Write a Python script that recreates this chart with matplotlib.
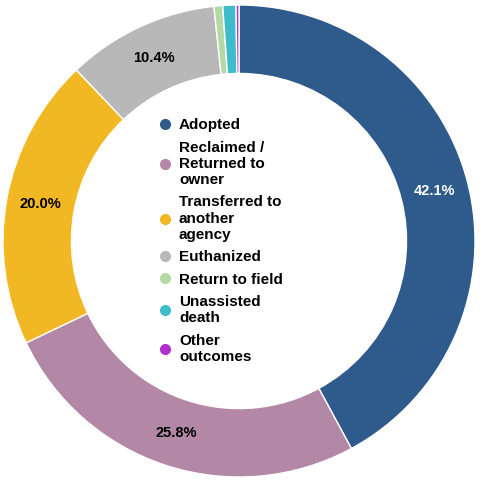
import matplotlib
matplotlib.use("Agg")
import matplotlib.pyplot as plt
import numpy as np

labels = ["Adopted", "Reclaimed /\nReturned to\nowner", "Transferred to\nanother\nagency", "Euthanized",
          "Return to field", "Unassisted\ndeath", "Other\noutcomes"]
values = [42.1, 25.8, 20.0, 10.4, 0.6, 0.9, 0.2]
colors = ["#2e5b8c", "#b388a6", "#f2b824", "#b8b8b8", "#b5d9a6", "#3fbccc", "#b02fd0"]

fig = plt.figure(figsize=(4.8, 4.8), dpi=100)
ax = fig.add_axes([3/480, 3/480, 472/480, 472/480])
wedges, _ = ax.pie(values, colors=colors, startangle=90, counterclock=False,
                   wedgeprops=dict(width=0.29, edgecolor="white", linewidth=1))
ax.set_xlim(-1, 1)
ax.set_ylim(-1, 1)
ax.set_aspect("equal")
ang = 90
for v, w in zip(values, wedges):
    mid = ang - v * 3.6 / 2
    ang -= v * 3.6
    if v < 5:
        continue
    r = 0.855
    x, y = r * np.cos(np.radians(mid)), r * np.sin(np.radians(mid))
    ax.text(x, y, f"{v:.1f}%", ha="center", va="center", fontsize=10.5, fontweight="bold",
            color="white" if v > 40 else "black", family="Liberation Sans")
handles = [plt.Line2D([], [], marker="o", ls="", color=c, markersize=7) for c in colors]
ax.legend(handles, labels, loc="center", bbox_to_anchor=(0.46, 0.5), frameon=False,
          prop=dict(weight="bold", size=11, family="Liberation Sans"),
          handletextpad=0.4, labelspacing=0.55, handlelength=1.0)
fig.savefig("out.png", dpi=100)
